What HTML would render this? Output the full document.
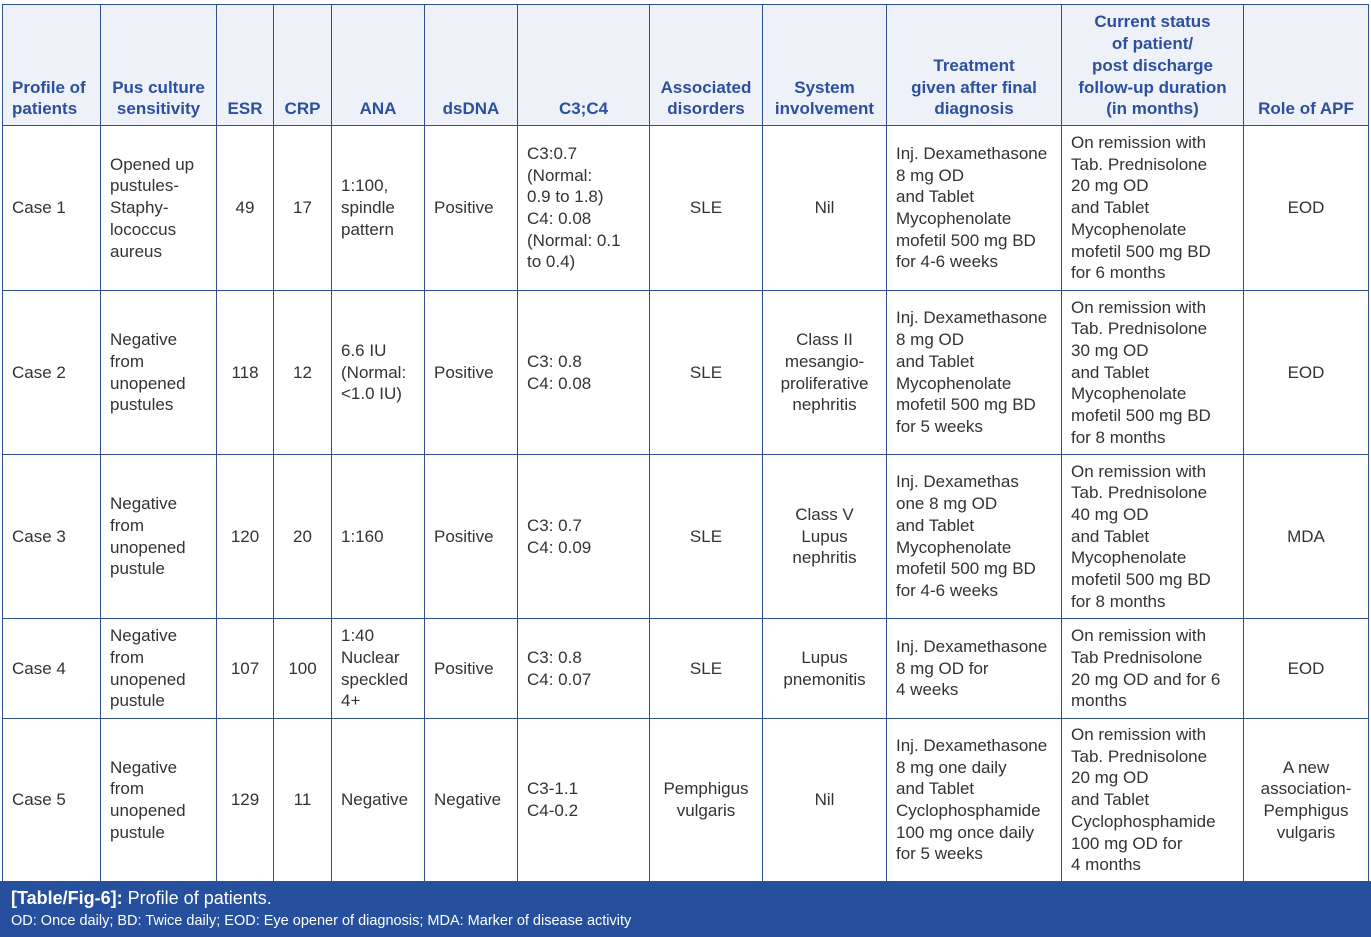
<!DOCTYPE html>
<html><head><meta charset="utf-8"><style>
body{margin:0;background:#fff;width:1371px;height:937px;overflow:hidden;font-family:"Liberation Sans",Arial,sans-serif;}
table{position:absolute;left:2px;top:4px;border-collapse:collapse;table-layout:fixed;width:1367px;}
td,th{border:1.5px solid #2f4f8f;font-size:17px;line-height:21.7px;color:#333;padding:0 9px;vertical-align:middle;overflow:hidden;}
th{background:#eef1f8;color:#2c4f9e;font-weight:bold;vertical-align:bottom;padding-bottom:5px;text-align:center;}
.c{text-align:center}
.n{white-space:nowrap}
.cap{position:absolute;left:0;top:881px;width:1371px;height:56px;background:#264f9e;color:#fff;}
.cap .a{position:absolute;left:11px;top:7px;font-size:18px;}
.cap .b{position:absolute;left:11px;top:32px;font-size:14.5px;}
</style></head><body>
<table>
<colgroup><col style="width:98px"><col style="width:116px"><col style="width:57px"><col style="width:58px"><col style="width:93px"><col style="width:93px"><col style="width:132px"><col style="width:113px"><col style="width:124px"><col style="width:175px"><col style="width:182px"><col style="width:125px"></colgroup>
<tr style="height:121px"><th style="text-align:left">Profile of patients</th><th>Pus culture sensitivity</th><th>ESR</th><th>CRP</th><th>ANA</th><th>dsDNA</th><th>C3;C4</th><th>Associated disorders</th><th>System involvement</th><th class="n">Treatment<br>given after final<br>diagnosis</th><th class="n">Current status<br>of patient/<br>post discharge<br>follow-up duration<br>(in months)</th><th>Role of APF</th></tr>
<tr style="height:165px"><td>Case 1</td><td>Opened up pustules-Staphy-lococcus aureus</td><td class="c">49</td><td class="c">17</td><td>1:100, spindle pattern</td><td>Positive</td><td>C3:0.7<br>(Normal:<br>0.9 to 1.8)<br>C4: 0.08<br>(Normal: 0.1<br>to 0.4)</td><td class="c">SLE</td><td class="c">Nil</td><td class="n">Inj. Dexamethasone<br>8 mg OD<br>and Tablet<br>Mycophenolate<br>mofetil 500 mg BD<br>for 4-6 weeks</td><td class="n">On remission with<br>Tab. Prednisolone<br>20 mg OD<br>and Tablet<br>Mycophenolate<br>mofetil 500 mg BD<br>for 6 months</td><td class="c">EOD</td></tr>
<tr style="height:164px"><td>Case 2</td><td>Negative from unopened pustules</td><td class="c">118</td><td class="c">12</td><td>6.6 IU (Normal: &lt;1.0 IU)</td><td>Positive</td><td>C3: 0.8<br>C4: 0.08</td><td class="c">SLE</td><td class="c">Class II mesangio-proliferative nephritis</td><td class="n">Inj. Dexamethasone<br>8 mg OD<br>and Tablet<br>Mycophenolate<br>mofetil 500 mg BD<br>for 5 weeks</td><td class="n">On remission with<br>Tab. Prednisolone<br>30 mg OD<br>and Tablet<br>Mycophenolate<br>mofetil 500 mg BD<br>for 8 months</td><td class="c">EOD</td></tr>
<tr style="height:164px"><td>Case 3</td><td>Negative from unopened pustule</td><td class="c">120</td><td class="c">20</td><td>1:160</td><td>Positive</td><td>C3: 0.7<br>C4: 0.09</td><td class="c">SLE</td><td class="c">Class V Lupus nephritis</td><td class="n">Inj. Dexamethas<br>one 8 mg OD<br>and Tablet<br>Mycophenolate<br>mofetil 500 mg BD<br>for 4-6 weeks</td><td class="n">On remission with<br>Tab. Prednisolone<br>40 mg OD<br>and Tablet<br>Mycophenolate<br>mofetil 500 mg BD<br>for 8 months</td><td class="c">MDA</td></tr>
<tr style="height:100px"><td>Case 4</td><td>Negative from unopened pustule</td><td class="c">107</td><td class="c">100</td><td>1:40 Nuclear speckled 4+</td><td>Positive</td><td>C3: 0.8<br>C4: 0.07</td><td class="c">SLE</td><td class="c">Lupus pnemonitis</td><td class="n">Inj. Dexamethasone<br>8 mg OD for<br>4 weeks</td><td class="n">On remission with<br>Tab Prednisolone<br>20 mg OD and for 6<br>months</td><td class="c">EOD</td></tr>
<tr style="height:163px"><td>Case 5</td><td>Negative from unopened pustule</td><td class="c">129</td><td class="c">11</td><td>Negative</td><td>Negative</td><td>C3-1.1<br>C4-0.2</td><td class="c">Pemphigus vulgaris</td><td class="c">Nil</td><td class="n">Inj. Dexamethasone<br>8 mg one daily<br>and Tablet<br>Cyclophosphamide<br>100 mg once daily<br>for 5 weeks</td><td class="n">On remission with<br>Tab. Prednisolone<br>20 mg OD<br>and Tablet<br>Cyclophosphamide<br>100 mg OD for<br>4 months</td><td class="c">A new association-Pemphigus vulgaris</td></tr>
</table>
<div class="cap"><div class="a"><b>[Table/Fig-6]:</b> Profile of patients.</div><div class="b">OD: Once daily; BD: Twice daily; EOD: Eye opener of diagnosis; MDA: Marker of disease activity</div></div>
</body></html>
